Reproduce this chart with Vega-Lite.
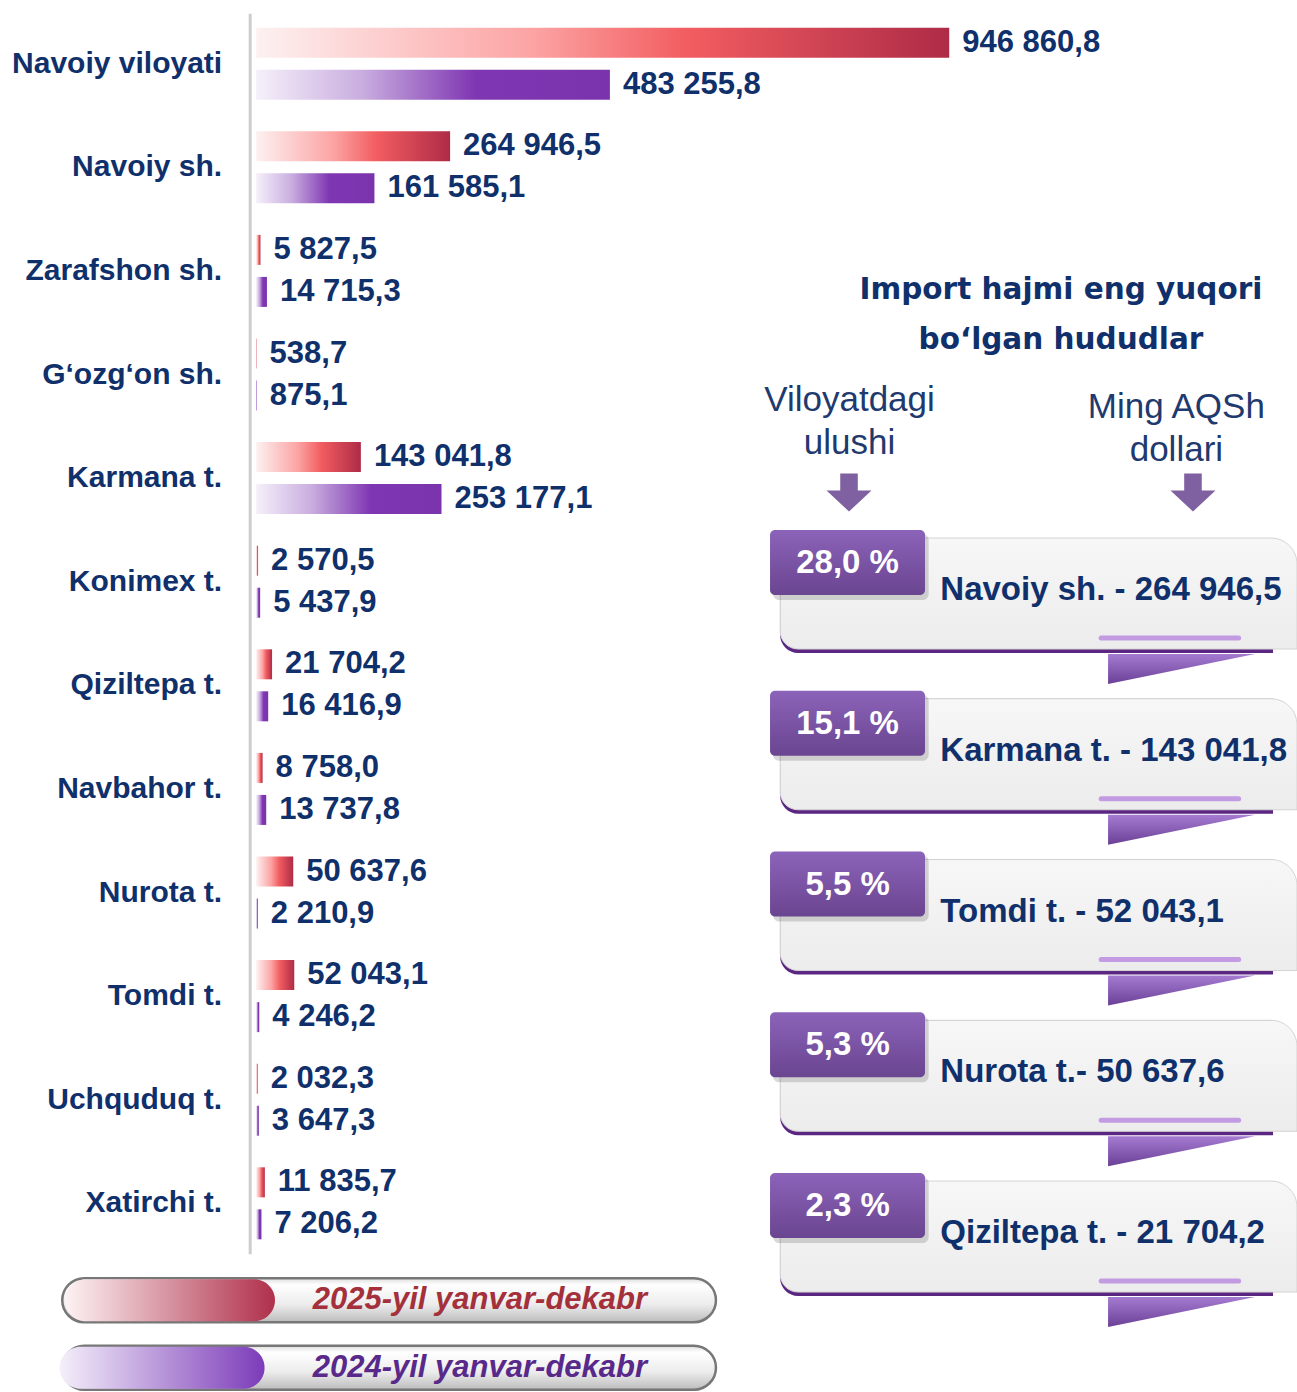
{
  "$schema": "https://vega.github.io/schema/vega-lite/v6.json",
  "width": 1297,
  "height": 1392,
  "padding": 0,
  "autosize": {"type": "none"},
  "background": "white",
  "config": {
    "view": {"stroke": null},
    "axis": {"disable": true},
    "locale": {"number": {"decimal": ",", "thousands": " ", "grouping": [3], "currency": ["", ""]}}
  },
  "layer": [
    {
      "data": {"values": [
        {"region": "Navoiy viloyati", "year": "2025", "value": 946860.8},
        {"region": "Navoiy viloyati", "year": "2024", "value": 483255.8},
        {"region": "Navoiy sh.", "year": "2025", "value": 264946.5},
        {"region": "Navoiy sh.", "year": "2024", "value": 161585.1},
        {"region": "Zarafshon sh.", "year": "2025", "value": 5827.5},
        {"region": "Zarafshon sh.", "year": "2024", "value": 14715.3},
        {"region": "G‘ozg‘on sh.", "year": "2025", "value": 538.7},
        {"region": "G‘ozg‘on sh.", "year": "2024", "value": 875.1},
        {"region": "Karmana t.", "year": "2025", "value": 143041.8},
        {"region": "Karmana t.", "year": "2024", "value": 253177.1},
        {"region": "Konimex t.", "year": "2025", "value": 2570.5},
        {"region": "Konimex t.", "year": "2024", "value": 5437.9},
        {"region": "Qiziltepa t.", "year": "2025", "value": 21704.2},
        {"region": "Qiziltepa t.", "year": "2024", "value": 16416.9},
        {"region": "Navbahor t.", "year": "2025", "value": 8758.0},
        {"region": "Navbahor t.", "year": "2024", "value": 13737.8},
        {"region": "Nurota t.", "year": "2025", "value": 50637.6},
        {"region": "Nurota t.", "year": "2024", "value": 2210.9},
        {"region": "Tomdi t.", "year": "2025", "value": 52043.1},
        {"region": "Tomdi t.", "year": "2024", "value": 4246.2},
        {"region": "Uchquduq t.", "year": "2025", "value": 2032.3},
        {"region": "Uchquduq t.", "year": "2024", "value": 3647.3},
        {"region": "Xatirchi t.", "year": "2025", "value": 11835.7},
        {"region": "Xatirchi t.", "year": "2024", "value": 7206.2}
      ]},
      "layer": [
        {
          "data": {"values": [{}]},
          "mark": {"type": "rule", "stroke": "#cdcdcd", "strokeWidth": 3, "xOffset": -6, "yOffset": -50, "y2Offset": 51},
          "encoding": {
            "x": {"datum": 0, "type": "quantitative", "scale": {"domain": [-350000, 1422000], "nice": false, "zero": false}, "axis": null},
            "y": {"datum": "Navoiy viloyati", "type": "nominal", "axis": null, "scale": {"domain": ["Navoiy viloyati", "Navoiy sh.", "Zarafshon sh.", "G‘ozg‘on sh.", "Karmana t.", "Konimex t.", "Qiziltepa t.", "Navbahor t.", "Nurota t.", "Tomdi t.", "Uchquduq t.", "Xatirchi t."], "paddingInner": 0, "paddingOuter": 0.718, "align": 0.08}},
            "y2": {"datum": "Xatirchi t."}
          }
        },
        {
          "transform": [{"filter": "datum.year == '2025'"}],
          "mark": {"type": "bar", "fill": {"gradient": "linear", "x1": 0, "y1": 0, "x2": 1, "y2": 0, "stops": [{"offset": 0, "color": "#fdf1f1"}, {"offset": 0.4, "color": "#fca3a3"}, {"offset": 0.62, "color": "#f25d60"}, {"offset": 1, "color": "#ae2b47"}]}},
          "encoding": {
            "x": {"field": "value", "type": "quantitative", "axis": null},
            "y": {"field": "region", "type": "nominal", "axis": null},
            "yOffset": {"field": "year", "type": "nominal", "scale": {"domain": ["2025", "2024"], "paddingInner": 0.2857, "paddingOuter": 0.376}}
          }
        },
        {
          "transform": [{"filter": "datum.year == '2024'"}],
          "mark": {"type": "bar", "fill": {"gradient": "linear", "x1": 0, "y1": 0, "x2": 1, "y2": 0, "stops": [{"offset": 0, "color": "#f5f0fa"}, {"offset": 0.3, "color": "#c9addf"}, {"offset": 0.62, "color": "#7f36b2"}, {"offset": 1, "color": "#7a33ad"}]}},
          "encoding": {
            "x": {"field": "value", "type": "quantitative", "axis": null},
            "y": {"field": "region", "type": "nominal", "axis": null},
            "yOffset": {"field": "year", "type": "nominal"}
          }
        },
        {
          "mark": {"type": "text", "align": "left", "baseline": "middle", "dx": 13, "font": "Liberation Sans", "fontWeight": "bold", "fontSize": 31, "fill": "#10306b"},
          "encoding": {
            "x": {"field": "value", "type": "quantitative", "axis": null},
            "y": {"field": "region", "type": "nominal", "axis": null},
            "yOffset": {"field": "year", "type": "nominal"},
            "text": {"field": "value", "type": "quantitative", "format": ",.1f"}
          }
        },
        {
          "transform": [{"filter": "datum.year == '2025'"}],
          "mark": {"type": "text", "align": "right", "baseline": "middle", "dx": -34, "font": "Liberation Sans", "fontWeight": "bold", "fontSize": 30, "fill": "#10306b"},
          "encoding": {
            "x": {"datum": 0, "type": "quantitative", "axis": null},
            "y": {"field": "region", "type": "nominal", "axis": null},
            "text": {"field": "region", "type": "nominal"}
          }
        }
      ]
    },
    {
      "data": {"values": [
        {"series": "2025-yil yanvar-dekabr", "year": 2025},
        {"series": "2024-yil yanvar-dekabr", "year": 2024}
      ]},
      "layer": [
        {
          "mark": {"type": "rect", "cornerRadius": 22, "stroke": "#777777", "strokeWidth": 2.5, "yOffset": -22, "y2Offset": 22, "fill": {"gradient": "linear", "x1": 0, "y1": 0, "x2": 0, "y2": 1, "stops": [{"offset": 0, "color": "#dcdcdc"}, {"offset": 0.15, "color": "#ffffff"}, {"offset": 0.6, "color": "#ececec"}, {"offset": 1, "color": "#bcbcbc"}]}},
          "encoding": {
            "x": {"datum": 4.8, "type": "quantitative", "axis": null, "scale": {"domain": [0, 100], "nice": false, "zero": false}},
            "x2": {"datum": 55.2},
            "y": {"field": "year", "type": "quantitative", "axis": null, "scale": {"domain": [2023.64, 2044.26], "nice": false, "zero": false}},
            "y2": {"field": "year"}
          }
        },
        {
          "transform": [{"filter": "datum.year == 2025"}],
          "mark": {"type": "rect", "cornerRadius": 21, "yOffset": -21, "y2Offset": 21, "fill": {"gradient": "linear", "x1": 0, "y1": 0, "x2": 1, "y2": 0, "stops": [{"offset": 0, "color": "#fdf3f4"}, {"offset": 1, "color": "#b0304b"}]}},
          "encoding": {
            "x": {"datum": 5.0, "type": "quantitative", "axis": null},
            "x2": {"datum": 21.2},
            "y": {"field": "year", "type": "quantitative", "axis": null},
            "y2": {"field": "year"}
          }
        },
        {
          "transform": [{"filter": "datum.year == 2024"}],
          "mark": {"type": "rect", "cornerRadius": 21, "yOffset": -21, "y2Offset": 21, "fill": {"gradient": "linear", "x1": 0, "y1": 0, "x2": 1, "y2": 0, "stops": [{"offset": 0, "color": "#f4effa"}, {"offset": 1, "color": "#7c3cb9"}]}},
          "encoding": {
            "x": {"datum": 4.6, "type": "quantitative", "axis": null},
            "x2": {"datum": 20.4},
            "y": {"field": "year", "type": "quantitative", "axis": null},
            "y2": {"field": "year"}
          }
        },
        {
          "mark": {"type": "text", "align": "center", "baseline": "middle", "font": "Liberation Sans", "fontWeight": "bold", "fontStyle": "italic", "fontSize": 31},
          "encoding": {
            "x": {"datum": 37.0, "type": "quantitative", "axis": null},
            "y": {"field": "year", "type": "quantitative", "axis": null},
            "text": {"field": "series", "type": "nominal"},
            "color": {"field": "year", "type": "nominal", "legend": null, "scale": {"domain": [2025, 2024], "range": ["#a3303a", "#58298a"]}}
          }
        }
      ]
    },
    {
      "data": {"values": [
        {"rank": 1, "share": "28,0 %", "label": "Navoiy sh. - 264 946,5"},
        {"rank": 2, "share": "15,1 %", "label": "Karmana t. - 143 041,8"},
        {"rank": 3, "share": "5,5 %", "label": "Tomdi t. - 52 043,1"},
        {"rank": 4, "share": "5,3 %", "label": "Nurota t.- 50 637,6"},
        {"rank": 5, "share": "2,3 %", "label": "Qiziltepa t. - 21 704,2"}
      ]},
      "layer": [
        {
          "data": {"values": [{"title": "Import hajmi eng yuqori\nbo‘lgan hududlar", "shareHead": "Viloyatdagi\nulushi", "valueHead": "Ming AQSh\ndollari"}]},
          "mark": {"type": "text", "align": "center", "baseline": "middle", "lineBreak": "\n", "lineHeight": 50, "font": "DejaVu Sans", "fontWeight": "bold", "fontSize": 29.5, "fill": "#10306b"},
          "encoding": {
            "x": {"datum": 81.8, "type": "quantitative", "axis": null, "scale": {"domain": [0, 100], "nice": false, "zero": false}},
            "y": {"datum": -0.493, "type": "quantitative", "axis": null, "scale": {"domain": [-2.297, 6.362], "reverse": true, "nice": false, "zero": false}},
            "text": {"field": "title", "type": "nominal"}
          }
        },
        {
          "data": {"values": [{"title": "Import hajmi eng yuqori\nbo‘lgan hududlar", "shareHead": "Viloyatdagi\nulushi", "valueHead": "Ming AQSh\ndollari"}]},
          "mark": {"type": "text", "align": "center", "baseline": "middle", "lineBreak": "\n", "lineHeight": 43, "font": "Liberation Sans", "fontSize": 35, "fill": "#1f3a6e"},
          "encoding": {
            "x": {"datum": 65.5, "type": "quantitative", "axis": null},
            "y": {"datum": 0.191, "type": "quantitative", "axis": null},
            "text": {"field": "shareHead", "type": "nominal"}
          }
        },
        {
          "data": {"values": [{"title": "Import hajmi eng yuqori\nbo‘lgan hududlar", "shareHead": "Viloyatdagi\nulushi", "valueHead": "Ming AQSh\ndollari"}]},
          "mark": {"type": "text", "align": "center", "baseline": "middle", "lineBreak": "\n", "lineHeight": 43, "font": "Liberation Sans", "fontSize": 35, "fill": "#1f3a6e"},
          "encoding": {
            "x": {"datum": 90.7, "type": "quantitative", "axis": null},
            "y": {"datum": 0.235, "type": "quantitative", "axis": null},
            "text": {"field": "valueHead", "type": "nominal"}
          }
        },
        {
          "data": {"values": [{}]},
          "mark": {"type": "point", "shape": "M -0.39 -0.844 L 0.39 -0.844 L 0.39 -0.09 L 1 -0.09 L 0 0.844 L -1 -0.09 L -0.39 -0.09 Z", "size": 2025, "filled": true, "fill": "#7f60a0", "opacity": 1, "strokeWidth": 0},
          "encoding": {
            "x": {"datum": 65.46, "type": "quantitative", "axis": null},
            "y": {"datum": 0.7667, "type": "quantitative", "axis": null}
          }
        },
        {
          "data": {"values": [{}]},
          "mark": {"type": "point", "shape": "M -0.39 -0.844 L 0.39 -0.844 L 0.39 -0.09 L 1 -0.09 L 0 0.844 L -1 -0.09 L -0.39 -0.09 Z", "size": 2025, "filled": true, "fill": "#7f60a0", "opacity": 1, "strokeWidth": 0},
          "encoding": {
            "x": {"datum": 91.98, "type": "quantitative", "axis": null},
            "y": {"datum": 0.7667, "type": "quantitative", "axis": null}
          }
        },
        {
          "mark": {"type": "rect", "fill": "#5b2582", "cornerRadiusBottomLeft": 18, "yOffset": 8, "y2Offset": 123},
          "encoding": {
            "x": {"datum": 60.15, "type": "quantitative", "axis": null},
            "x2": {"datum": 98.15},
            "y": {"field": "rank", "type": "quantitative", "axis": null},
            "y2": {"field": "rank"}
          }
        },
        {
          "mark": {"type": "rect", "stroke": "#d4d4d4", "strokeWidth": 1, "cornerRadiusTopRight": 26, "cornerRadiusBottomLeft": 18, "yOffset": 8, "y2Offset": 119, "fill": {"gradient": "linear", "x1": 0, "y1": 0, "x2": 0, "y2": 1, "stops": [{"offset": 0, "color": "#f7f7f7"}, {"offset": 1, "color": "#ececec"}]}},
          "encoding": {
            "x": {"datum": 60.15, "type": "quantitative", "axis": null},
            "x2": {"datum": 100},
            "y": {"field": "rank", "type": "quantitative", "axis": null},
            "y2": {"field": "rank"}
          }
        },
        {
          "mark": {"type": "rule", "stroke": "#c39be2", "strokeWidth": 5, "strokeCap": "round", "yOffset": 108},
          "encoding": {
            "x": {"datum": 84.9, "type": "quantitative", "axis": null},
            "x2": {"datum": 95.5},
            "y": {"field": "rank", "type": "quantitative", "axis": null}
          }
        },
        {
          "mark": {"type": "point", "shape": "M -1 -0.204 L 1 -0.204 L -1 0.204 Z", "size": 21609, "filled": true, "opacity": 1, "strokeWidth": 0, "yOffset": 139, "fill": {"gradient": "linear", "x1": 0, "y1": 0, "x2": 0, "y2": 1, "stops": [{"offset": 0, "color": "#a57bd2"}, {"offset": 1, "color": "#6b3f96"}]}},
          "encoding": {
            "x": {"datum": 91.1, "type": "quantitative", "axis": null},
            "y": {"field": "rank", "type": "quantitative", "axis": null}
          }
        },
        {
          "mark": {"type": "rect", "fill": "#000000", "opacity": 0.15, "cornerRadius": 6, "yOffset": 4, "y2Offset": 70},
          "encoding": {
            "x": {"datum": 59.6, "type": "quantitative", "axis": null},
            "x2": {"datum": 71.6},
            "y": {"field": "rank", "type": "quantitative", "axis": null},
            "y2": {"field": "rank"}
          }
        },
        {
          "mark": {"type": "rect", "cornerRadius": 5, "yOffset": 0, "y2Offset": 65, "fill": {"gradient": "linear", "x1": 0, "y1": 0, "x2": 0, "y2": 1, "stops": [{"offset": 0, "color": "#8b63b9"}, {"offset": 1, "color": "#6a4590"}]}},
          "encoding": {
            "x": {"datum": 59.37, "type": "quantitative", "axis": null},
            "x2": {"datum": 71.32},
            "y": {"field": "rank", "type": "quantitative", "axis": null},
            "y2": {"field": "rank"}
          }
        },
        {
          "mark": {"type": "text", "align": "center", "baseline": "middle", "dy": 33, "font": "Liberation Sans", "fontWeight": "bold", "fontSize": 33, "fill": "#ffffff"},
          "encoding": {
            "x": {"datum": 65.35, "type": "quantitative", "axis": null},
            "y": {"field": "rank", "type": "quantitative", "axis": null},
            "text": {"field": "share", "type": "nominal"}
          }
        },
        {
          "mark": {"type": "text", "align": "left", "baseline": "middle", "dy": 60, "font": "Liberation Sans", "fontWeight": "bold", "fontSize": 33, "fill": "#10306b"},
          "encoding": {
            "x": {"datum": 72.5, "type": "quantitative", "axis": null},
            "y": {"field": "rank", "type": "quantitative", "axis": null},
            "text": {"field": "label", "type": "nominal"}
          }
        }
      ]
    }
  ],
  "resolve": {"scale": {"x": "independent", "y": "independent", "yOffset": "independent", "color": "independent"}}
}
